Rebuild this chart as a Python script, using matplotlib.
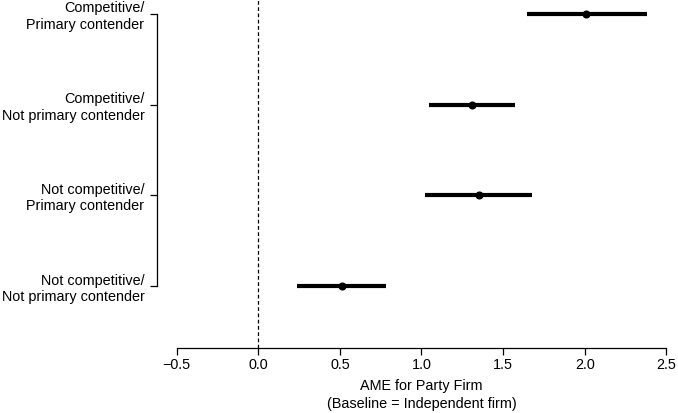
import matplotlib
matplotlib.use("Agg")
import matplotlib.pyplot as plt

plt.rcParams['font.family'] = ['Liberation Sans', 'DejaVu Sans']

categories = ["Competitive/\nPrimary contender",
              "Competitive/\nNot primary contender",
              "Not competitive/\nPrimary contender",
              "Not competitive/\nNot primary contender"]
estimates = [2.01, 1.31, 1.35, 0.51]
lower = [1.645, 1.048, 1.024, 0.239]
upper = [2.380, 1.570, 1.675, 0.781]
xticks = [-0.5, 0.0, 0.5, 1.0, 1.5, 2.0, 2.5]
xticklabels = ["\u22120.5", "0.0", "0.5", "1.0", "1.5", "2.0", "2.5"]
ypos = [4, 3, 2, 1]

W, H = 678, 413
fig = plt.figure(figsize=(W / 100, H / 100), dpi=100)
left_px, right_px, top_px, bottom_px = 157, 678, 0, 348
ax = fig.add_axes([left_px / W, (H - bottom_px) / H,
                   (right_px - left_px) / W, (bottom_px - top_px) / H])

unit = 163.2
ax.set_xlim(-0.5 - (176.7 - left_px) / unit, 2.5 + (right_px - 666.3) / unit)
yunit = 90.67
ax.set_ylim(1 - (bottom_px - 286) / yunit, 4 + (14 - top_px) / yunit)

ax.axvline(0, color='black', linestyle=(0, (3, 2)), linewidth=0.9)

for y, e, lo, hi in zip(ypos, estimates, lower, upper):
    ax.plot([lo, hi], [y, y], color='black', linewidth=3.0, solid_capstyle='butt')
    ax.plot([e], [y], 'o', color='black', markersize=4.8)

ax.spines['top'].set_visible(False)
ax.spines['right'].set_visible(False)
ax.spines['left'].set_bounds(1, 4)
ax.spines['bottom'].set_bounds(-0.5, 2.5)
for s in ('left', 'bottom'):
    ax.spines[s].set_linewidth(0.9)

fs = 10.4
ax.set_yticks(ypos)
ax.set_yticklabels(categories, fontsize=fs, ha='right', linespacing=1.22)
ax.set_xticks(xticks)
ax.set_xticklabels(xticklabels, fontsize=fs)
ax.tick_params(axis='y', length=5, width=0.9, pad=4)
ax.tick_params(axis='x', length=5, width=0.9, pad=2.5)

ax.annotate("AME for Party Firm\n(Baseline = Independent firm)",
            xy=(1.0, 0), xycoords=('data', 'axes fraction'),
            xytext=(0, -22), textcoords='offset points',
            ha='center', va='top', fontsize=fs, linespacing=1.38)

fig.savefig("out.png", dpi=100)
